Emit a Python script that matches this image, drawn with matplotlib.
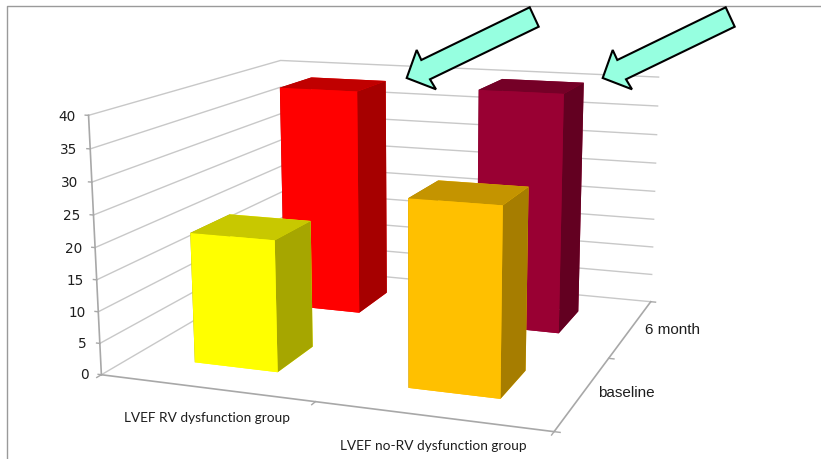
import matplotlib
matplotlib.use('Agg')
import matplotlib.pyplot as plt
from matplotlib.lines import Line2D
from matplotlib.patches import Polygon

# Chart values
groups = ['LVEF RV dysfunction group', 'LVEF no-RV dysfunction group']
periods = ['baseline', '6 month']
baseline_values = [20.8, 28.8]
six_month_values = [38.6, 39.9]
z_ticks = [0, 5, 10, 15, 20, 25, 30, 35, 40]

# Face colours per bar: front, top, side
bar_colors = {
    (0, 0): ('#FFFF00', '#C8C800', '#A6A600'),
    (1, 0): ('#FFC000', '#C49400', '#A67D00'),
    (0, 1): ('#FF0000', '#C00000', '#A60000'),
    (1, 1): ('#990033', '#750027', '#630021'),
}

AXIS_COLOR = '#A8A8A8'
GRID_COLOR = '#C8C8C8'
TEXT_COLOR = '#1E1E1E'
W, H = 821, 459
BAR_SIZE = 0.2


def draw_walls(ax):
    """Gridlines on the left and back walls, plus the axis lines and ticks"""
    for z in z_ticks:
        ax.plot([0, 0, 1], [0, 1, 1], [z, z, z], color=GRID_COLOR, lw=1.0, zorder=1)
        ax.plot([-0.008, 0], [0, 0], [z, z], color=AXIS_COLOR, lw=1.0, zorder=2)
    ax.plot([0, 0], [0, 0], [0, 40], color=AXIS_COLOR, lw=1.2, zorder=2)
    ax.plot([0, 1, 1], [0, 0, 1], [0, 0, 0], color=AXIS_COLOR, lw=1.2, zorder=2)
    for x in [0, 0.5, 1]:
        ax.plot([x, x], [-0.02, 0], [0, 0], color=AXIS_COLOR, lw=1.0, zorder=2)
    for y in [0, 0.5, 1]:
        ax.plot([1, 1.012], [y, y], [0, 0], color=AXIS_COLOR, lw=1.0, zorder=2)


def draw_bar(ax, col, row, value, order):
    front, top, side = bar_colors[(col, row)]
    # bar3d face order: bottom, top, -y, +y, -x, +x
    faces = [front, top, front, front, side, side]
    x0 = 0.15 + 0.5 * col
    y0 = 0.15 + 0.5 * row
    ax.bar3d(x0, y0, 0, BAR_SIZE, BAR_SIZE, value, color=faces, shade=False,
             edgecolor='none', linewidth=0, zorder=order)


def draw_labels(ax):
    for z in z_ticks:
        ax.text(-0.032, 0, z - 0.35, str(z), ha='right', va='center', fontsize=9.8,
                family='DejaVu Sans', color=TEXT_COLOR, zorder=20)
    ax.text(0.335, -0.165, 0, groups[0], ha='center', va='center', fontsize=9.85,
            family='Lato', color=TEXT_COLOR, zorder=20)
    ax.text(0.805, -0.155, 0, groups[1], ha='center', va='center', fontsize=9.85,
            family='Lato', color=TEXT_COLOR, zorder=20)
    ax.text(1.085, 0.28, 0, periods[0], ha='center', va='center', fontsize=11,
            family='Liberation Sans', color=TEXT_COLOR, zorder=20)
    ax.text(1.095, 0.77, 0, periods[1], ha='center', va='center', fontsize=11,
            family='Liberation Sans', color=TEXT_COLOR, zorder=20)


def px(x, y):
    """Pixel position, measured from the top left, to figure fraction"""
    return x / W, 1 - y / H


def draw_callouts(fig):
    outline = [(529.7, 7.3), (538.7, 26.7), (430, 79.3), (436, 89.3), (406.7, 78),
               (416.7, 50), (421.3, 60)]
    for shift in [0, 196]:
        verts = [px(x + shift, y) for x, y in outline]
        fig.add_artist(Polygon(verts, closed=True, facecolor='#96FFE0', edgecolor='black',
                               lw=1.5, joinstyle='miter', transform=fig.transFigure, zorder=5))


def main():
    fig = plt.figure(figsize=(W / 100, H / 100), dpi=100)
    # Side of the square 3D axes is 635 px, placed so the box fills the slide
    ax = fig.add_axes([70.04 / W, -84.38 / H, 635 / W, 635 / H], projection='3d')
    ax.computed_zorder = False
    ax.set_xlim(0, 1)
    ax.set_ylim(0, 1)
    ax.set_zlim(0, 40)
    ax.view_init(elev=13.017, azim=-69.626, roll=0.22)
    ax.set_proj_type('persp', focal_length=0.4463)
    ax.set_box_aspect((1.7749, 1.6913, 1))
    ax.set_axis_off()
    for axis in (ax.xaxis, ax.yaxis, ax.zaxis):
        axis.set_ticks([])
        axis.set_visible(False)

    draw_walls(ax)
    # Back row first so the front bars cover it
    draw_bar(ax, 1, 1, six_month_values[1], 5)
    draw_bar(ax, 0, 1, six_month_values[0], 6)
    draw_bar(ax, 1, 0, baseline_values[1], 7)
    draw_bar(ax, 0, 0, baseline_values[0], 8)
    draw_labels(ax)
    draw_callouts(fig)

    # Thin frame along the top and left of the slide
    fig.add_artist(Line2D([7 / W, 7 / W, 1], [0, 1 - 6 / H, 1 - 6 / H], color='#9A9A9A', lw=1.0))

    fig.savefig('out.png', dpi=100)


if __name__ == '__main__':
    main()
